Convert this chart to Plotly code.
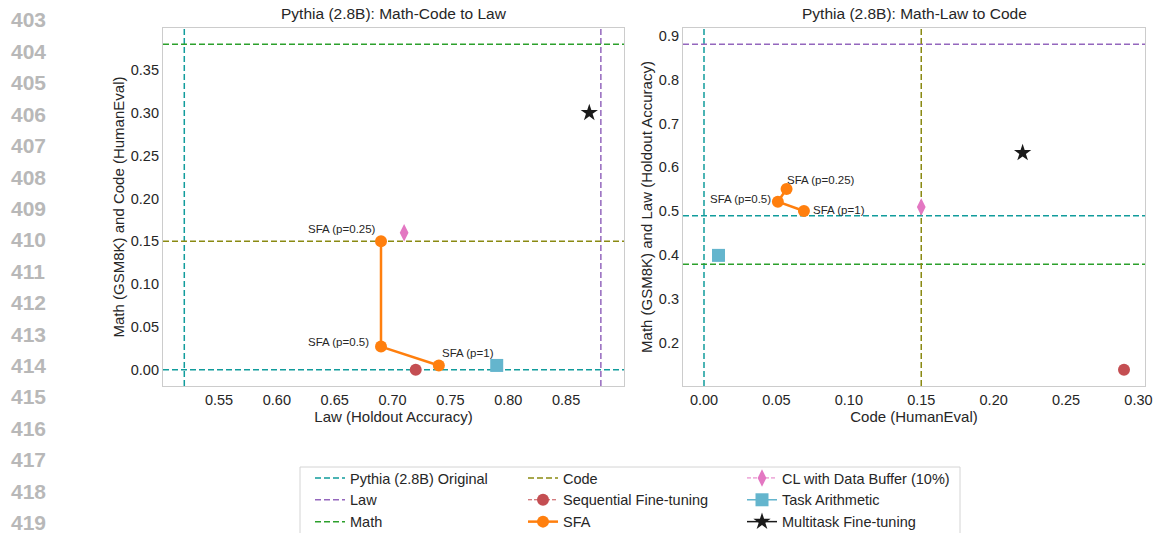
import plotly.graph_objects as go

# ---------------- data ----------------
line_numbers = [str(n) for n in range(403, 420)]

titles = ["Pythia (2.8B): Math-Code to Law", "Pythia (2.8B): Math-Law to Code"]
x_titles = ["Law (Holdout Accuracy)", "Code (HumanEval)"]
y_titles = ["Math (GSM8K) and Code (HumanEval)", "Math (GSM8K) and Law (Holdout Accuracy)"]

sfa_labels = ["SFA (p=0.25)", "SFA (p=0.5)", "SFA (p=1)"]

# Left panel: Math-Code to Law
L_orig_x, L_orig_y = 0.52, 0.00
L_law_x = 0.88
L_math_y = 0.38
L_code_y = 0.15
L_seq = (0.72, 0.00)
L_sfa_x = [0.69, 0.69, 0.74]
L_sfa_y = [0.15, 0.027, 0.005]
L_cl = (0.71, 0.16)
L_ta = (0.79, 0.005)
L_mt = (0.87, 0.30)

# Right panel: Math-Law to Code
R_orig_x, R_orig_y = 0.00, 0.49
R_law_y = 0.88
R_math_y = 0.38
R_code_x = 0.15
R_seq = (0.29, 0.14)
R_sfa_x = [0.057, 0.051, 0.069]
R_sfa_y = [0.551, 0.522, 0.501]
R_cl = (0.15, 0.51)
R_ta = (0.01, 0.40)
R_mt = (0.22, 0.633)

L_xticks = [0.55, 0.60, 0.65, 0.70, 0.75, 0.80, 0.85]
L_yticks = [0.00, 0.05, 0.10, 0.15, 0.20, 0.25, 0.30, 0.35]
R_xticks = [0.00, 0.05, 0.10, 0.15, 0.20, 0.25, 0.30]
R_yticks = [0.2, 0.3, 0.4, 0.5, 0.6, 0.7, 0.8, 0.9]

# ---------------- style ----------------
W, H = 1153, 533
FONT = "Liberation Sans, Arial, Helvetica, sans-serif"
TXT = "#262626"
C_ORIG = "#119c9c"
C_LAW = "#9467bd"
C_MATH = "#2ca02c"
C_CODE = "#8a8a12"
C_SEQ = "#c44e52"
C_SFA = "#ff7f0e"
C_CL = "#e377c2"
C_TA = "#64b5cd"
C_MT = "#1a1a1a"
DASH = "6px,3px"

TICK_FS = 14.5
AXT_FS = 15
TITLE_FS = 15.5
LEG_FS = 14.5
LAB_FS = 11.5

L_xr = [0.5016, 0.9]
L_yr = [-0.019, 0.399]
R_xr = [-0.0145, 0.3045]
R_yr = [0.103, 0.917]

fig = go.Figure()


def vline(x, yr, color, name, xa, ya, legend, show):
    fig.add_trace(go.Scatter(x=[x, x], y=yr, mode="lines", xaxis=xa, yaxis=ya,
                             line=dict(color=color, width=1.5, dash=DASH),
                             name=name, legendgroup=name, showlegend=show,
                             legend=legend, hoverinfo="skip"))


def hline(y, xr, color, name, xa, ya, legend, show):
    fig.add_trace(go.Scatter(x=xr, y=[y, y], mode="lines", xaxis=xa, yaxis=ya,
                             line=dict(color=color, width=1.5, dash=DASH),
                             name=name, legendgroup=name, showlegend=show,
                             legend=legend, hoverinfo="skip"))


def points(xa, ya, seq, sfa_x, sfa_y, cl, ta, mt, show):
    fig.add_trace(go.Scatter(x=[seq[0]], y=[seq[1]], mode="lines+markers", xaxis=xa, yaxis=ya,
                             line=dict(color=C_SEQ, width=1, dash="4px,2px"),
                             marker=dict(color=C_SEQ, size=12, symbol="circle"),
                             name="Sequential Fine-tuning", legendgroup="seq",
                             showlegend=show, legend="legend2"))
    fig.add_trace(go.Scatter(x=sfa_x, y=sfa_y, mode="lines+markers", xaxis=xa, yaxis=ya,
                             line=dict(color=C_SFA, width=2.5),
                             marker=dict(color=C_SFA, size=12, symbol="circle"),
                             name="SFA", legendgroup="sfa",
                             showlegend=show, legend="legend2"))
    fig.add_trace(go.Scatter(x=[cl[0]], y=[cl[1]], mode="lines+markers", xaxis=xa, yaxis=ya,
                             line=dict(color=C_CL, width=1, dash="4px,2px"),
                             marker=dict(color=C_CL, size=12.5, symbol="diamond-tall"),
                             name="CL with Data Buffer (10%)", legendgroup="cl",
                             showlegend=show, legend="legend3"))
    fig.add_trace(go.Scatter(x=[ta[0]], y=[ta[1]], mode="lines+markers", xaxis=xa, yaxis=ya,
                             line=dict(color=C_TA, width=1.5),
                             marker=dict(color=C_TA, size=13, symbol="square"),
                             name="Task Arithmetic", legendgroup="ta",
                             showlegend=show, legend="legend3"))
    fig.add_trace(go.Scatter(x=[mt[0]], y=[mt[1]], mode="lines+markers", xaxis=xa, yaxis=ya,
                             line=dict(color=C_MT, width=1.5),
                             marker=dict(color=C_MT, size=13, symbol="star"),
                             name="Multitask Fine-tuning", legendgroup="mt",
                             showlegend=show, legend="legend3"))


# left panel reference lines
vline(L_orig_x, L_yr, C_ORIG, "Pythia (2.8B) Original", "x", "y", "legend", True)
hline(L_orig_y, L_xr, C_ORIG, "Pythia (2.8B) Original", "x", "y", "legend", False)
vline(L_law_x, L_yr, C_LAW, "Law", "x", "y", "legend", True)
hline(L_math_y, L_xr, C_MATH, "Math", "x", "y", "legend", True)
hline(L_code_y, L_xr, C_CODE, "Code", "x", "y", "legend2", True)
points("x", "y", L_seq, L_sfa_x, L_sfa_y, L_cl, L_ta, L_mt, True)

# right panel reference lines
vline(R_orig_x, R_yr, C_ORIG, "Pythia (2.8B) Original", "x2", "y2", "legend", False)
hline(R_orig_y, R_xr, C_ORIG, "Pythia (2.8B) Original", "x2", "y2", "legend", False)
hline(R_law_y, R_xr, C_LAW, "Law", "x2", "y2", "legend", False)
hline(R_math_y, R_xr, C_MATH, "Math", "x2", "y2", "legend", False)
vline(R_code_x, R_yr, C_CODE, "Code", "x2", "y2", "legend2", False)
points("x2", "y2", R_seq, R_sfa_x, R_sfa_y, R_cl, R_ta, R_mt, False)

# ---------------- layout ----------------
def px_x(p):
    return p / W


def px_y(p):
    return 1 - p / H


axis_common = dict(showline=True, mirror=True, linecolor="#cccccc", linewidth=1.2,
                   showgrid=False, zeroline=False, ticks="", ticklabeloverflow="allow",
                   automargin=False,
                   tickfont=dict(size=TICK_FS, color=TXT, family=FONT))

L_dom_x = [px_x(163), px_x(624)]
R_dom_x = [px_x(683), px_x(1145)]
dom_y = [px_y(386), px_y(28)]

fig.update_layout(
    width=W, height=H,
    margin=dict(l=0, r=0, t=0, b=0, pad=0, autoexpand=False),
    paper_bgcolor="white", plot_bgcolor="white",
    font=dict(family=FONT, color=TXT, size=13),
    xaxis=dict(domain=L_dom_x, range=L_xr, anchor="y", tickvals=L_xticks, tickformat=".2f",
               title=dict(text=x_titles[0], font=dict(size=AXT_FS, color=TXT), standoff=3),
               **axis_common),
    yaxis=dict(domain=dom_y, range=L_yr, anchor="x", tickvals=L_yticks, tickformat=".2f",
               title=dict(text=y_titles[0], font=dict(size=AXT_FS, color=TXT), standoff=2),
               **axis_common),
    xaxis2=dict(domain=R_dom_x, range=R_xr, anchor="y2", tickvals=R_xticks, tickformat=".2f",
                title=dict(text=x_titles[1], font=dict(size=AXT_FS, color=TXT), standoff=3),
                **axis_common),
    yaxis2=dict(domain=dom_y, range=R_yr, anchor="x2", tickvals=R_yticks, tickformat=".1f",
                title=dict(text=y_titles[1], font=dict(size=AXT_FS, color=TXT), standoff=2),
                **axis_common),
    showlegend=True,
)

leg_common = dict(bgcolor="rgba(0,0,0,0)", borderwidth=0, orientation="v",
                  font=dict(size=LEG_FS, color=TXT, family=FONT),
                  xanchor="left", yanchor="top", tracegroupgap=0, itemwidth=30)
fig.update_layout(
    legend=dict(x=px_x(310), y=px_y(462), **leg_common),
    legend2=dict(x=px_x(523), y=px_y(462), **leg_common),
    legend3=dict(x=px_x(742), y=px_y(462), **leg_common),
)

# legend frame (cut off by the bottom edge, so drawn open at the bottom)
fx0, fx1, fy_top, fy_bot = px_x(300), px_x(960), px_y(467), 0
fig.add_shape(type="path", xref="paper", yref="paper",
              path=f"M {fx0},{fy_bot} L {fx0},{fy_top} L {fx1},{fy_top} L {fx1},{fy_bot}",
              line=dict(color="#d4d4d4", width=1), layer="below")

# titles
annotations = []
for dom, t in [(L_dom_x, titles[0]), (R_dom_x, titles[1])]:
    annotations.append(dict(x=(dom[0] + dom[1]) / 2, y=px_y(14), xref="paper", yref="paper",
                            text=t, showarrow=False, xanchor="center", yanchor="middle",
                            font=dict(size=TITLE_FS, color=TXT, family=FONT)))

# SFA point labels
L_offsets = [("right", -3, 12), ("right", -10, 5), ("left", 1, 12)]
R_offsets = [("left", -2, 9), ("right", -5, 3), ("left", 7, 1)]
for xa, ya, xs, ys, offs in [("x", "y", L_sfa_x, L_sfa_y, L_offsets),
                             ("x2", "y2", R_sfa_x, R_sfa_y, R_offsets)]:
    for lab, xv, yv, (anc, dx, dy) in zip(sfa_labels, xs, ys, offs):
        annotations.append(dict(x=xv, y=yv, xref=xa, yref=ya, text=lab, showarrow=False,
                                xanchor=anc, yanchor="middle", xshift=dx, yshift=dy,
                                font=dict(size=LAB_FS, color=TXT, family=FONT)))

# page line numbers
for i, n in enumerate(line_numbers):
    annotations.append(dict(x=px_x(28), y=px_y(20 + i * 31.4), xref="paper", yref="paper",
                            text="<b>" + n + "</b>", showarrow=False,
                            xanchor="center", yanchor="middle",
                            font=dict(size=21, color="#b8b8b8", family=FONT)))

fig.update_layout(annotations=annotations)

fig.write_html("out.html", config={"displayModeBar": False},
               post_script="document.body.style.margin='0';document.body.style.overflow='hidden';")
